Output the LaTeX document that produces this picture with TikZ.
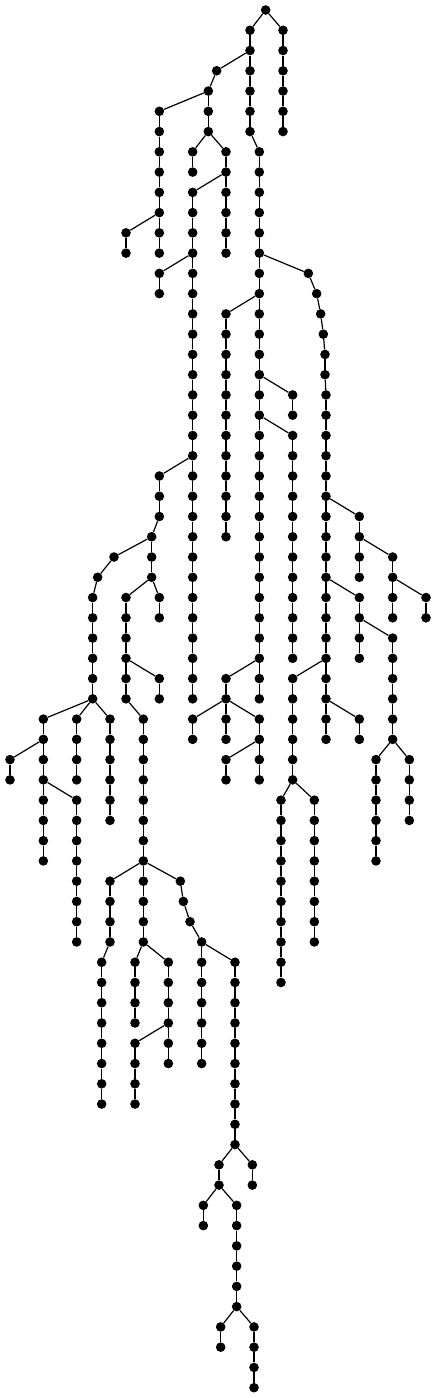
\documentclass[tikz,border=0pt]{standalone}
\begin{document}
\begin{tikzpicture}[x=1pt,y=1pt,
  dot/.style={circle,fill=black,draw=none,inner sep=0pt,minimum size=9.6pt},
  edge/.style={line width=1.2pt,black}]
\useasboundingbox (0,0) rectangle (436,-1398);
\newcommand{\chain}[3]{%
  \foreach \l in {#2,...,#3}{\node[dot] (n#1-\l) at ({#1/3},{-10-20.26*\l}) {};}%
  \foreach \l [evaluate=\l as \p using int(\l-1)] in {#2,...,#3}{%
    \ifnum\l>#2 \draw[edge] (n#1-\p) -- (n#1-\l);\fi}}
\newcommand{\E}[4]{\draw[edge] (n#1-#2) -- (n#3-#4);}
% chains
\chain{797}{0}{0}
\chain{849}{1}{6}
\chain{750}{1}{6}
\chain{650}{3}{3}
\chain{625}{4}{6}
\chain{478}{5}{12}
\chain{378}{11}{12}
\chain{578}{7}{8}
\chain{678}{7}{12}
\chain{578}{9}{34}
\chain{478}{13}{14}
\chain{478}{23}{25}
\chain{455}{26}{28}
\chain{342}{27}{27}
\chain{293}{28}{28}
\chain{278}{29}{34}
\chain{130}{35}{42}
\chain{30}{37}{38}
\chain{230}{39}{46}
\chain{230}{35}{38}
\chain{330}{35}{40}
\chain{378}{29}{34}
\chain{478}{29}{30}
\chain{478}{33}{34}
\chain{430}{35}{46}
\chain{330}{43}{46}
\chain{305}{47}{54}
\chain{405}{47}{50}
\chain{505}{47}{52}
\chain{405}{51}{54}
\chain{541}{43}{43}
\chain{550}{44}{44}
\chain{570}{45}{45}
\chain{605}{46}{52}
\chain{705}{47}{56}
\chain{657}{57}{58}
\chain{757}{57}{58}
\chain{610}{59}{60}
\chain{710}{59}{64}
\chain{662}{65}{66}
\chain{762}{65}{68}
\chain{778}{7}{34}
\chain{925}{13}{13}
\chain{950}{14}{14}
\chain{962}{15}{15}
\chain{970}{16}{16}
\chain{975}{17}{18}
\chain{978}{19}{36}
\chain{678}{15}{26}
\chain{878}{19}{20}
\chain{878}{21}{32}
\chain{678}{33}{34}
\chain{578}{35}{36}
\chain{678}{35}{36}
\chain{778}{35}{38}
\chain{678}{37}{38}
\chain{1078}{25}{28}
\chain{1178}{27}{30}
\chain{1278}{29}{30}
\chain{1078}{29}{32}
\chain{1178}{31}{36}
\chain{1128}{37}{42}
\chain{1228}{37}{40}
\chain{878}{33}{38}
\chain{843}{39}{48}
\chain{943}{39}{46}
\chain{1078}{35}{36}
% links
\E{797}{0}{849}{1}
\E{797}{0}{750}{1}
\E{750}{2}{650}{3}
\E{650}{3}{625}{4}
\E{625}{4}{478}{5}
\E{478}{10}{378}{11}
\E{625}{6}{578}{7}
\E{625}{6}{678}{7}
\E{678}{8}{578}{9}
\E{578}{12}{478}{13}
\E{578}{22}{478}{23}
\E{478}{25}{455}{26}
\E{455}{26}{342}{27}
\E{342}{27}{293}{28}
\E{293}{28}{278}{29}
\E{278}{34}{130}{35}
\E{130}{36}{30}{37}
\E{130}{38}{230}{39}
\E{278}{34}{230}{35}
\E{278}{34}{330}{35}
\E{455}{28}{378}{29}
\E{455}{28}{478}{29}
\E{378}{32}{478}{33}
\E{378}{34}{430}{35}
\E{430}{42}{330}{43}
\E{330}{46}{305}{47}
\E{430}{46}{405}{47}
\E{430}{46}{505}{47}
\E{505}{50}{405}{51}
\E{430}{42}{541}{43}
\E{541}{43}{550}{44}
\E{550}{44}{570}{45}
\E{570}{45}{605}{46}
\E{605}{46}{705}{47}
\E{705}{56}{657}{57}
\E{705}{56}{757}{57}
\E{657}{58}{610}{59}
\E{657}{58}{710}{59}
\E{710}{64}{662}{65}
\E{710}{64}{762}{65}
\E{750}{6}{778}{7}
\E{778}{12}{925}{13}
\E{925}{13}{950}{14}
\E{950}{14}{962}{15}
\E{962}{15}{970}{16}
\E{970}{16}{975}{17}
\E{975}{18}{978}{19}
\E{778}{14}{678}{15}
\E{778}{18}{878}{19}
\E{778}{20}{878}{21}
\E{778}{32}{678}{33}
\E{678}{34}{578}{35}
\E{678}{34}{678}{35}
\E{678}{34}{778}{35}
\E{778}{36}{678}{37}
\E{978}{24}{1078}{25}
\E{1078}{26}{1178}{27}
\E{1178}{28}{1278}{29}
\E{978}{28}{1078}{29}
\E{1078}{30}{1178}{31}
\E{1178}{36}{1128}{37}
\E{1178}{36}{1228}{37}
\E{978}{32}{878}{33}
\E{878}{38}{843}{39}
\E{878}{38}{943}{39}
\E{978}{34}{1078}{35}
\end{tikzpicture}
\end{document}
